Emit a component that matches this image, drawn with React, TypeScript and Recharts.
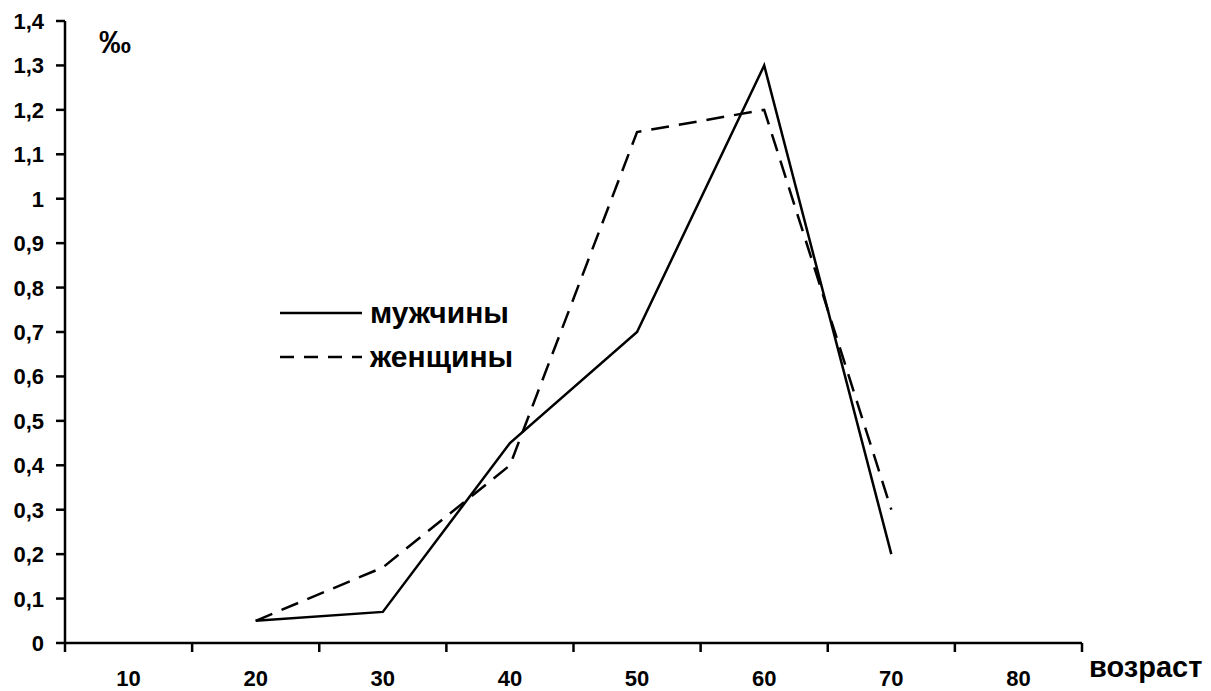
import React from 'react';
import { LineChart, Line, XAxis, YAxis } from 'recharts';

const ages = [20, 30, 40, 50, 60, 70];
const men = [0.05, 0.07, 0.45, 0.7, 1.3, 0.2];
const women = [0.05, 0.17, 0.4, 1.15, 1.2, 0.3];

const ageLabels = [10, 20, 30, 40, 50, 60, 70, 80];
const edgeTicks = [5, 15, 25, 35, 45, 55, 65, 75, 85];
const yTicks = [0, 0.1, 0.2, 0.3, 0.4, 0.5, 0.6, 0.7, 0.8, 0.9, 1, 1.1, 1.2, 1.3, 1.4];

const series = [
  { key: 'men', label: 'мужчины', dash: undefined, legendDash: undefined },
  { key: 'women', label: 'женщины', dash: '18 10', legendDash: '14 10' },
];

const data = ages.map((age, i) => ({ age, men: men[i], women: women[i] }));

const font = 'Arial, "Liberation Sans", sans-serif';

const fmt = (v: number) => String(v).replace('.', ',');

const YTick = ({ x, y, payload }: any) => (
  <text x={x} y={y} dy={8} textAnchor="end" fontFamily={font} fontWeight="bold" fontSize={22} fill="#000">
    {fmt(payload.value)}
  </text>
);

const XTick = ({ x, y, payload }: any) => (
  <text x={x} y={y} dy={42} textAnchor="middle" fontFamily={font} fontWeight="bold" fontSize={22} fill="#000">
    {payload.value}
  </text>
);

const NoTick = () => <g />;

export default function App() {
  return (
    <div style={{ width: 1203, height: 683 }}>
      <LineChart
        width={1203}
        height={683}
        data={data}
        margin={{ top: 13, right: 129, left: 0, bottom: 0 }}
      >
        <XAxis
          xAxisId="edges"
          type="number"
          dataKey="age"
          domain={[5, 85]}
          ticks={edgeTicks}
          interval={0}
          tick={<NoTick />}
          tickSize={9}
          height={1}
          axisLine={{ stroke: '#000', strokeWidth: 2.5 }}
          tickLine={{ stroke: '#000', strokeWidth: 2.5 }}
        />
        <XAxis
          xAxisId="labels"
          type="number"
          dataKey="age"
          domain={[5, 85]}
          ticks={ageLabels}
          interval={0}
          axisLine={false}
          tickLine={false}
          tickSize={0}
          tickMargin={0}
          height={47}
          tick={<XTick />}
        />
        <YAxis
          type="number"
          domain={[0, 1.4]}
          ticks={yTicks}
          width={57}
          tickSize={9}
          tickMargin={12}
          interval={0}
          axisLine={{ stroke: '#000', strokeWidth: 2.5 }}
          tickLine={{ stroke: '#000', strokeWidth: 2.5 }}
          tick={<YTick />}
        />
        {series.map((s) => (
          <Line
            key={s.key}
            xAxisId="edges"
            dataKey={s.key}
            name={s.label}
            type="linear"
            stroke="#000"
            strokeWidth={2.5}
            strokeDasharray={s.dash}
            dot={false}
            isAnimationActive={false}
          />
        ))}
        {series.map((s, i) => (
          <g key={'legend-' + s.key}>
            <line x1={272} x2={354} y1={305 + i * 44} y2={305 + i * 44}
              stroke="#000" strokeWidth={2.5} strokeDasharray={s.legendDash} />
            <text x={362} y={315 + i * 44} fontFamily={font} fontWeight="bold" fontSize={30} fill="#000">
              {s.label}
            </text>
          </g>
        ))}
        <text x={91} y={45} fontFamily={font} fontWeight="bold" fontSize={32} fill="#000">‰</text>
        <text x={1081} y={669} fontFamily={font} fontWeight="bold" fontSize={29} fill="#000">возраст</text>
      </LineChart>
    </div>
  );
}
